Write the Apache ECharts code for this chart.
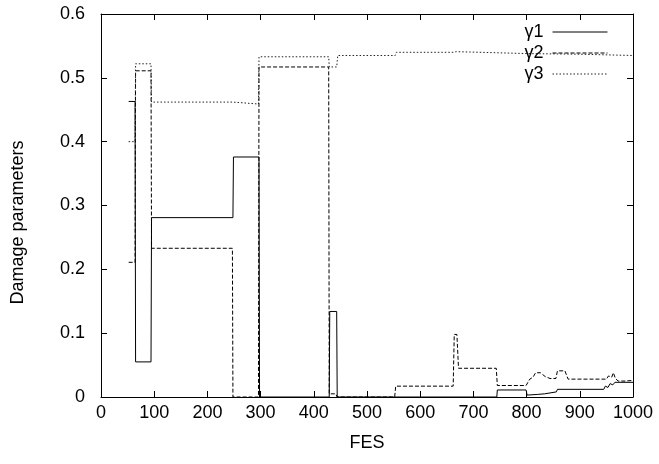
<!DOCTYPE html>
<html>
<head>
<meta charset="utf-8">
<script src="https://cdn.jsdelivr.net/npm/echarts@6/dist/echarts.min.js"></script>
<style>html,body{margin:0;padding:0;background:#fff}#c{width:659px;height:464px}</style>
</head>
<body>
<div id="c"></div>
<script>
const xTicks = [0, 100, 200, 300, 400, 500, 600, 700, 800, 900, 1000];
const yTicks = [0, 0.1, 0.2, 0.3, 0.4, 0.5, 0.6];
const seriesNames = ['γ1', 'γ2', 'γ3'];

const gamma1 = [
  [52,0.463],[64,0.463],[65,0.055],[94,0.055],[95,0.281],[248,0.281],[249,0.376],
  [297,0.376],[298,0],[429,0],[430,0.134],[443,0.134],[444,0],[744,0],[745,0.011],
  [799,0.011],[801,0.003],[820,0.004],[834,0.005],[836,0.008],[856,0.008],[858,0.012],
  [945,0.012],[948,0.017],[953,0.015],[957,0.021],[962,0.019],[966,0.023],[1000,0.023]
];
const gamma2 = [
  [52,0.211],[64,0.211],[65,0.511],[94,0.511],[95,0.233],[247,0.233],[248,0],[296,0],
  [297,0.517],[428,0.517],[429,0.005],[441,0.005],[444,0],[552,0],[554,0.017],[662,0.017],
  [664,0.098],[669,0.098],[672,0.045],[743,0.045],[745,0.018],[799,0.018],[806,0.028],
  [812,0.031],[817,0.038],[826,0.038],[835,0.032],[844,0.029],[855,0.029],[858,0.041],
  [872,0.041],[878,0.028],[950,0.028],[954,0.033],[957,0.036],[960,0.031],[963,0.038],
  [967,0.029],[972,0.025],[985,0.025],[1000,0.026]
];
const gamma3 = [
  [52,0.40],[64,0.40],[65,0.522],[94,0.522],[95,0.462],[248,0.462],[250,0.459],[296,0.459],
  [297,0.533],[428,0.533],[429,0.517],[443,0.517],[445,0.535],[553,0.535],[555,0.540],
  [662,0.540],[664,0.542],[668,0.541],[671,0.538],[800,0.538],[900,0.537],[1000,0.535]
];

const font = 'Liberation Sans, Arial, Helvetica, sans-serif';
const chart = echarts.init(document.getElementById('c'), null, {renderer: 'canvas'});
const tickCommon = {show: true, inside: true, length: 6, lineStyle: {color: '#000', width: 1}};
const lineCommon = {show: true, onZero: false, lineStyle: {color: '#000', width: 1}};

chart.setOption({
  animation: false,
  backgroundColor: '#fff',
  textStyle: {fontFamily: font, color: '#000'},
  grid: {left: 101, right: 26, top: 14, bottom: 67},
  legend: {
    orient: 'vertical', right: 51, top: 23, align: 'right',
    itemWidth: 55, itemHeight: 14, itemGap: 3, padding: 0,
    data: seriesNames,
    itemStyle: {opacity: 0, borderWidth: 0},
    lineStyle: {width: 1},
    textStyle: {fontFamily: font, fontSize: 18, color: '#000', padding: [0, 4, 0, 0]}
  },
  xAxis: [{
    type: 'value', min: xTicks[0], max: xTicks[xTicks.length - 1], interval: 100,
    name: 'FES', nameLocation: 'middle', nameGap: 37,
    nameTextStyle: {fontFamily: font, fontSize: 18, color: '#000'},
    axisLine: lineCommon, axisTick: tickCommon,
    axisLabel: {fontFamily: font, fontSize: 18, color: '#000', margin: 7, formatter: v => String(v)},
    splitLine: {show: false}
  }, {
    type: 'value', position: 'top', min: xTicks[0], max: xTicks[xTicks.length - 1], interval: 100,
    axisLine: lineCommon, axisTick: tickCommon, axisLabel: {show: false}, splitLine: {show: false}
  }],
  yAxis: [{
    type: 'value', min: yTicks[0], max: yTicks[yTicks.length - 1], interval: 0.1,
    name: 'Damage parameters', nameLocation: 'middle', nameGap: 74, nameRotate: 90,
    nameTextStyle: {fontFamily: font, fontSize: 18, color: '#000', padding: [0, 34, 0, 0]},
    axisLine: lineCommon, axisTick: tickCommon,
    axisLabel: {fontFamily: font, fontSize: 18, color: '#000', margin: 16},
    splitLine: {show: false}
  }, {
    type: 'value', position: 'right', min: yTicks[0], max: yTicks[yTicks.length - 1], interval: 0.1,
    axisLine: lineCommon, axisTick: tickCommon, axisLabel: {show: false}, splitLine: {show: false}
  }],
  series: [
    {name: seriesNames[0], type: 'line', data: gamma1, symbol: 'none',
     lineStyle: {color: '#000', width: 1, type: 'solid'}, itemStyle: {color: '#000'}},
    {name: seriesNames[1], type: 'line', data: gamma2, symbol: 'none',
     lineStyle: {color: '#000', width: 1, type: [4, 2]}, itemStyle: {color: '#000'}},
    {name: seriesNames[2], type: 'line', data: gamma3, symbol: 'none',
     lineStyle: {color: '#222', width: 1, type: [1.5, 2]}, itemStyle: {color: '#222'}}
  ]
});
</script>
</body>
</html>
